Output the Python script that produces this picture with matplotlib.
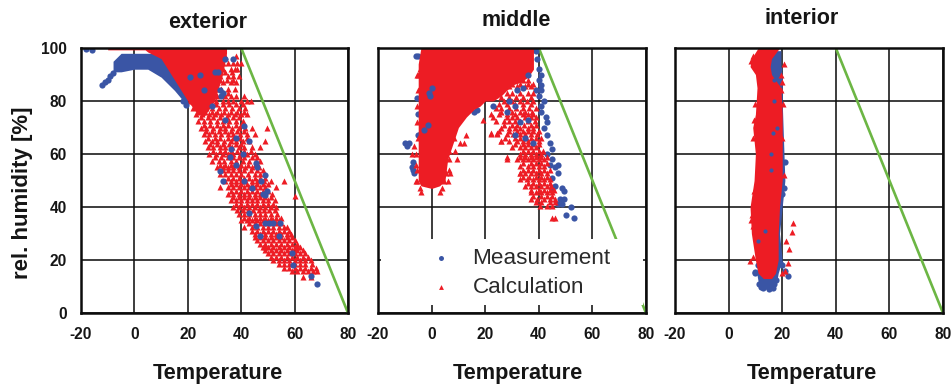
import matplotlib
matplotlib.use("Agg")
import matplotlib.pyplot as plt
from matplotlib.patches import Rectangle

plt.rcParams['font.family'] = ['Liberation Sans', 'DejaVu Sans']
plt.rcParams['axes.unicode_minus'] = False

RED = '#ed1c24'; BLUE = '#3a55a5'; GREEN = '#6cb644'; INK = '#151515'
X_TICKS = [-20, 0, 20, 40, 60, 80]
Y_TICKS = [0, 20, 40, 60, 80, 100]
LIMIT_T = [40, 80]
LIMIT_RH = [100, 0]
PANELS = ['exterior', 'middle', 'interior']

# ---------- exterior: envelopes of the solid clouds ----------
EXT_BLUE_T = [-8, -5, 0, 5, 10, 15, 20]
EXT_BLUE_LO = [91, 91, 92, 92, 89, 84, 78]
EXT_BLUE_HI = [95, 98, 98, 98, 98, 98, 98]
EXT_RED_T = [-10, 4, 5, 10, 15, 20, 23, 26, 30, 33, 34.5]
EXT_RED_LO = [99.3, 99.3, 98.5, 96, 88, 80, 76, 74, 80, 90, 98]
EXT_RED_HI = [100, 100, 100, 100, 100, 100, 100, 100, 100, 100, 100]
EXT_CALC_ROWS = [
    (97, [32, 34, 38]), (94.5, [30, 33, 35, 37, 38.5, 40]), (92, [26, 29, 31, 33, 36, 37.5, 38.5]),
    (89.5, [24, 27, 30, 32, 35, 37, 39]), (87, [23, 26, 28, 31, 33, 36, 38]),
    (84.5, [22, 25, 28, 30, 32.5, 35, 37.5]), (82, [22, 24, 26.5, 29, 31, 34, 36, 38, 41]),
    (80, [21, 23.5, 26, 28, 30.5, 33, 35, 37, 40, 42, 43.5]), (77.5, [22, 24.5, 27, 29, 31.5, 34, 36.5, 39, 41.5]),
    (75, [23, 25.5, 28, 30, 32.5, 35, 37.5, 40, 42]), (72.5, [24, 26, 28.5, 31, 33, 35.5, 38, 40.5]),
    (70, [25, 27, 29.5, 32, 34, 36.5, 39, 41.5, 44, 49.5]), (67.5, [26, 28, 30, 32.5, 35, 37, 39.5, 42, 45]),
    (65, [26.5, 29, 31, 33.5, 36, 38, 40.5, 43, 49]), (62.5, [27.5, 29.5, 32, 34, 36.5, 39, 41, 44, 47]),
    (60, [28, 30.5, 33, 35, 37, 39.5, 42, 45]), (57.5, [29, 31.5, 33.5, 36, 38, 40.5, 43, 45.5, 47]),
    (55, [31, 33, 35, 37, 39, 41.5, 44, 46.5]), (52.5, [32, 34, 36, 38, 40, 42.5, 45, 47]),
    (50, [34, 36, 38, 40, 41.5, 44, 46, 48.5, 51, 56]), (47.5, [32, 35, 37, 39, 41, 43, 45, 47, 49, 53]),
    (45, [35, 37, 39, 41, 43, 45, 47, 49, 51.5]), (42.5, [36, 38, 40, 42, 44, 46, 48, 50, 52.5]),
    (40, [37, 39, 41, 43, 45, 47, 49, 51, 53]), (44, [60]), (37.5, [39, 41, 43, 45, 47, 49, 51, 53.5]),
    (35, [40, 42, 44, 46, 48, 50, 52, 54]), (32.5, [41, 44, 46, 48, 50, 52, 54, 56, 57]),
    (30, [45, 47, 49, 51, 53, 55, 57, 58.5]), (27.5, [46, 48, 50, 52, 54, 56, 58, 60]),
    (25, [48, 50, 52, 54, 56, 58, 60, 62]), (22.5, [50, 52, 54, 56, 58, 60, 62, 64]),
    (25, [49, 61]), (20, [52, 54, 56, 58, 60, 62, 64, 66]), (18.5, [54, 56, 58, 60, 62, 64, 66.5]),
    (16, [59, 61, 63, 65, 67, 68.5]), (13.5, [63, 66]),
]
EXT_CALC_ROWS_B = [
    (91, [27.5, 30, 34, 36.5]), (88, [25, 27.5, 29.5, 32, 34.5, 37]), (83, [23, 25.5, 27.5, 30, 33, 35]),
    (78.8, [23, 25.5, 28, 30.5, 33, 35.5, 38, 40.5]), (76, [24, 26.5, 29, 31, 33.5, 36, 38.5, 41]),
    (73.8, [25, 27.5, 29.5, 32, 34.5, 37, 39]), (71, [26, 28.5, 31, 33, 35, 38, 40]),
    (68.8, [27, 29, 31.5, 34, 36, 38.5, 41]), (66, [27.5, 30, 32, 35, 37, 39.5, 42]),
    (63.8, [28.5, 31, 33, 35.5, 38, 40]), (61, [29.5, 32, 34, 36, 38.5, 41, 43.5]),
    (58.8, [30, 32.5, 35, 37, 39, 41, 44, 46]), (56, [32, 34, 36, 38, 40, 42.5, 45]),
    (53.8, [33, 35, 37, 39, 41, 43.5, 46, 48]), (51, [35, 37, 39, 41, 43, 45, 47, 49]),
    (48.8, [36, 38, 40, 42, 44, 46, 48, 50]), (46, [36, 38, 40, 42, 44, 46, 48, 50]),
    (43.8, [37, 39, 41, 43, 45, 47, 49, 51]), (41, [38, 40, 42, 44, 46, 48, 50, 52]),
    (38.8, [38.5, 40.5, 42.5, 44.5, 46.5, 48.5, 50.5, 52.5]), (36, [41, 43, 45, 47, 49, 51, 53, 55]),
    (33.8, [43, 45, 47, 49, 51, 53, 55]), (31, [44, 46, 48, 50, 52, 54, 56, 58]),
    (28.8, [45, 47, 49, 51, 53, 55, 57, 59]), (26, [47, 49, 51, 53, 55, 57, 59, 61]),
    (23.8, [49, 51, 53, 55, 57, 59, 61, 63]), (21, [51, 53, 55, 57, 59, 61, 63, 65]),
    (17, [56, 58, 60, 62, 64, 66, 68]),
]
EXT_MEAS_PTS = [
    (-18, 99.5), (-16, 99.3), (-12, 86), (-11, 87), (-10, 88), (-9, 89.5), (-8, 90.5),
    (34, 96), (37, 96), (31.4, 91), (30, 91), (24.5, 90), (32, 84), (32.6, 82), (33, 83), (20.8, 89),
    (41, 70.5), (43, 65), (40.7, 60), (45.7, 56.6), (46, 55), (48.8, 52), (47.5, 50), (32, 53.5), (33, 50),
    (49, 44.6), (49.5, 46), (48, 45), (35.7, 59), (38, 56), (52, 34), (50.5, 34), (54.5, 34), (49, 34),
    (45.7, 33), (43, 37.7), (59, 22.6), (66, 13.8), (68.4, 10.8), (59.4, 18), (19.5, 78.6), (18.3, 80),
    (29, 78), (34, 73), (36, 62), (41, 50), (44, 47), (38, 66), (26, 84), (54, 29), (47, 29),
]

# ---------- middle ----------
MID_RED_T = [-5, -4, 0, 3, 5, 6, 8, 10, 13, 16, 18, 20, 23, 26, 28, 30, 33, 36, 38]
MID_RED_LO = [50, 48, 47, 48, 50, 58, 64, 70, 74, 77, 78, 80, 80, 82, 84, 86, 87, 89, 92]
MID_RED_HI = [94, 100, 100, 100, 100, 100, 100, 100, 100, 100, 100, 100, 100, 100, 100, 100, 100, 100, 100]
MID_CALC_ROWS = [
    (88, [28, 31, 34, 36]), (85.5, [26, 29, 32, 35, 37]), (83, [24, 28, 30, 33, 36, 38]),
    (80, [27, 30, 33, 35.5, 38]), (77.5, [24, 26, 29, 31.5, 34, 36.5, 39]), (75, [22, 25, 28, 31, 34, 36, 38]),
    (72.5, [24, 27, 29, 31, 33, 36, 38.5]), (70, [26, 29, 31, 33, 36, 38]), (67.5, [22, 24.5, 28, 30.5, 33, 35, 37, 39.5]),
    (65, [26, 29, 32, 34, 36, 38, 40]), (62.5, [30, 33, 35, 37, 39]), (60, [33, 35, 37, 39, 41]),
    (58, [28, 32, 34, 36, 38, 40, 42]), (55.5, [33, 36, 38, 40, 42]), (53, [33, 35, 37, 39, 41, 43]),
    (50.5, [33, 35.5, 38, 40, 42, 44]), (48, [35, 37, 39, 41, 43, 44.5]), (45.5, [37, 39, 41, 43, 45]),
    (43, [37, 39.5, 42, 44, 46]), (40.5, [40.5, 43, 45]), (36, [45, 46]),
    (73, [19]), (68, [22, 24.4]), (65, [26]), (59, [28]), (53, [33]), (67, [13]), (64, [12, 10.5]),
    (61, [8.6, 6.5]), (58, [9.5, 6.4]), (53, [7, 5.5]), (50, [6, 4.5]), (47, [-4.5, 4]),
    (45.5, [-4, 3.3]), (60, [-7.3, -6]), (63, [-6.5]), (50, [-5.5, -6]), (90, [-5.5, -5]), (92, [-4.5]),
    (70, [4.8, 6.5, 8]), (74, [9, 10.5]), (66, [6, 8.5]),
]
MID_CALC_ROWS_B = [
    (86.5, [30, 33, 36, 38]), (81.5, [26, 29, 31.5, 34, 37]), (79, [25, 28, 31, 34, 37]),
    (76, [26, 30, 33, 35, 37.5]), (73.8, [23, 28, 30, 32, 35, 37, 39]), (71, [27, 30, 32, 34.5, 37, 39]),
    (68.8, [25, 29, 32, 34, 36, 38, 40]), (66, [27.5, 31, 33, 35, 37, 39, 41]), (63.8, [31, 34, 36, 38, 40]),
    (61, [34, 36, 38, 40, 41.5]), (59, [33, 35, 37, 39, 41, 43]), (56.5, [34, 37, 39, 41, 43]),
    (54, [34, 36, 38, 40, 42, 44]), (51.5, [34, 36.5, 39, 41, 43]), (49, [36, 38, 40, 42, 44]),
    (46.5, [37, 40, 42, 44, 45.5]), (44, [38, 41, 43, 45]), (42, [39, 41, 44, 46]),
    (84, [-5.2]), (78, [-5.5]), (72, [-5.3]), (66, [-5]), (56, [-5.8]), (54, [-5.5, 6.5]),
]
MID_MEAS_PTS = [
    (-6, 97), (-5, 97), (-3, 95), (-2, 95.5), (-1, 93), (-8.5, 64), (-10, 64), (-9, 63), (-7, 57), (-7.5, 55), (-7, 54), (-6.7, 53),
    (-5, 67), (-4, 68), (-5.5, 81), (-5, 75), (17, 76.5), (16, 76),
    (39.5, 96), (40, 92), (41, 90), (40, 88), (41, 86), (39, 84), (41, 84), (40, 82), (42, 80), (41, 78),
    (41, 76), (42.5, 74), (43, 72), (42, 70), (43, 67), (44, 64), (45, 62), (43, 60), (45, 58), (44, 56), (46, 55),
    (47, 56), (47, 53), (45, 51), (46, 48), (45, 47), (48.6, 47), (49.5, 46), (48, 43), (49.3, 43), (47, 41), (48.6, 41),
    (52, 40), (50, 37), (53, 36), (39, 99), (36, 99), (38, 99.5),
]
MID_MEAS_TOP_PTS = [(36, 90), (32, 84), (34, 85), (31, 78), (36, 73), (33, 72), (28, 76), (35, 66), (31, 67),
                    (29, 80), (23, 78), (38, 64), (-1, 83), (0, 85), (-1.5, 71), (-0.5, 82), (-3, 69)]

# ---------- interior (column bounded at each humidity) ----------
INT_RH = [100, 96, 93, 90, 85, 75, 70, 60, 50, 40, 30, 20, 15, 13]
INT_RED_LO = [11, 8.5, 8, 10, 10.6, 10, 9, 10, 9.5, 8, 8.5, 10, 11, 13]
INT_RED_HI = [19, 16, 15.5, 16, 19.5, 20, 20, 20, 20, 19, 18.5, 18.5, 17.5, 16]
INT_BLUE_RH = [99, 93, 90, 80, 50, 45, 30, 20, 15, 12, 10, 9]
INT_BLUE_LO = [14, 15, 15, 16, 17, 17, 12, 11, 10.5, 11, 11.5, 13]
INT_BLUE_HI = [19.5, 19.5, 20, 20, 21, 20.5, 19, 20, 18.5, 18, 17.5, 16.5]
INT_TOP_T = [2, 30]
INT_TOP_LO = [99.6, 99.6]
INT_TOP_HI = [100, 100]
INT_CALC_PTS = [(24, 34), (23.7, 30.5), (21.5, 27), (22.5, 24), (22, 19), (20, 15), (21, 16), (8, 19.5), (9, 21),
                (8.5, 35), (8.8, 37), (9, 33), (9.5, 42), (9.5, 46), (9, 66), (9.3, 73), (10, 79), (8.3, 95), (9, 97),
                (20.5, 52), (20, 66), (20.2, 79), (20, 87), (19.5, 84), (20.5, 94), (19.5, 90)]
INT_MEAS_PTS = [(10, 15), (9.7, 15.5), (11, 18), (11.5, 22), (22, 14), (20, 18), (19, 19), (21, 16), (21, 57), (20.5, 47),
                (20, 45), (11.5, 11), (12, 10), (13, 9.4), (15, 9), (16.5, 9.6), (17, 11), (17.8, 12.5)]
INT_MEAS_TOP_PTS = [(17.5, 93), (18, 90), (19, 92), (17, 88), (15.8, 60), (16, 54), (13.5, 31), (11, 27), (17, 80), (18, 70), (16.5, 68)]


def expand(*rowsets):
    rows = [r for s in rowsets for r in s]
    return [t for rh, ts in rows for t in ts], [rh for rh, ts in rows for t in ts]


def unzip(pts):
    return [p[0] for p in pts], [p[1] for p in pts]


W, H = 952, 385
fig = plt.figure(figsize=(W / 100, H / 100), dpi=100)
LEFTS = [(81, 348), (378, 646), (675, 943)]
TOP, BOT = 48, 313
axes = []
for i, (l, r) in enumerate(LEFTS):
    ax = fig.add_axes([l / W, 1 - BOT / H, (r - l) / W, (BOT - TOP) / H])
    ax.set_xlim(-20, 80)
    ax.set_ylim(0, 100)
    ax.set_xticks(X_TICKS)
    ax.set_yticks(Y_TICKS)
    ax.grid(True, color='#111111', lw=1.15, zorder=1)
    ax.set_axisbelow(True)
    ax.tick_params(length=0, pad=10, labelsize=11.2, labelcolor=INK)
    for lab in ax.get_xticklabels() + ax.get_yticklabels():
        lab.set_fontweight('bold')
    if i > 0:
        ax.tick_params(labelleft=False)
    for s in ax.spines.values():
        s.set_linewidth(1.8)
        s.set_color('#0c0c0c')
        s.set_zorder(8)
    ax.plot(LIMIT_T, LIMIT_RH, color=GREEN, lw=1.9, zorder=2.5, solid_capstyle='butt')
    axes.append(ax)

ms_c, ms_t = 20, 19
a = axes[0]
a.fill_between(EXT_BLUE_T, EXT_BLUE_LO, EXT_BLUE_HI, color=BLUE, lw=0, zorder=3)
a.fill_between(EXT_RED_T, EXT_RED_LO, EXT_RED_HI, color=RED, lw=0, zorder=3.1)
a.scatter(*expand(EXT_CALC_ROWS, EXT_CALC_ROWS_B), marker='^', s=ms_t, color=RED, lw=0, zorder=3.2)
a.scatter(*unzip(EXT_MEAS_PTS), marker='o', s=ms_c, color=BLUE, lw=0, zorder=3.3)

a = axes[1]
a.fill_between(MID_RED_T, MID_RED_LO, MID_RED_HI, color=RED, lw=0, zorder=3.1)
a.scatter(*unzip(MID_MEAS_PTS), marker='o', s=ms_c, color=BLUE, lw=0, zorder=3.0)
hc = a.scatter(*expand(MID_CALC_ROWS, MID_CALC_ROWS_B), marker='^', s=ms_t, color=RED, lw=0, zorder=3.2, label='Calculation')
hm = a.scatter(*unzip(MID_MEAS_TOP_PTS), marker='o', s=ms_c, color=BLUE, lw=0, zorder=3.3, label='Measurement')
a.add_patch(Rectangle((-19, 3), 98, 25, facecolor='white', edgecolor='none', zorder=5))
leg = a.legend(handles=[hm, hc], loc='center left', bbox_to_anchor=((418 - 378) / 268, 0.15),
               frameon=False, fontsize=16.2, handletextpad=0.42, labelspacing=0.36,
               borderpad=0, borderaxespad=0, markerscale=0.8, labelcolor='#2a2a2a')
leg.set_zorder(6)

a = axes[2]
a.fill_betweenx(INT_BLUE_RH, INT_BLUE_LO, INT_BLUE_HI, color=BLUE, lw=0, zorder=3)
a.fill_betweenx(INT_RH, INT_RED_LO, INT_RED_HI, color=RED, lw=0, zorder=3.1)
a.fill_between(INT_TOP_T, INT_TOP_LO, INT_TOP_HI, color=RED, lw=0, zorder=3.1)
a.scatter(*unzip(INT_MEAS_PTS), marker='o', s=ms_c, color=BLUE, lw=0, zorder=3.0)
a.scatter(*unzip(INT_CALC_PTS), marker='^', s=ms_t, color=RED, lw=0, zorder=3.2)
a.scatter(*unzip(INT_MEAS_TOP_PTS), marker='o', s=9, color=BLUE, lw=0, zorder=3.3)

for name, px, py in zip(PANELS, [208, 516, 802], [22, 21, 19]):
    fig.text(px / W, 1 - py / H, name, ha='center', va='center', fontsize=15.5, fontweight='bold', color=INK)
for px in [218, 518, 812]:
    fig.text(px / W, 1 - 373 / H, 'Temperature', ha='center', va='center', fontsize=15.7, fontweight='bold', color=INK)
fig.text(23 / W, 1 - 193 / H, 'rel. humidity [%]', rotation=90, ha='center', va='center', fontsize=16, fontweight='bold', color=INK)

fig.savefig('out.png', dpi=100)
